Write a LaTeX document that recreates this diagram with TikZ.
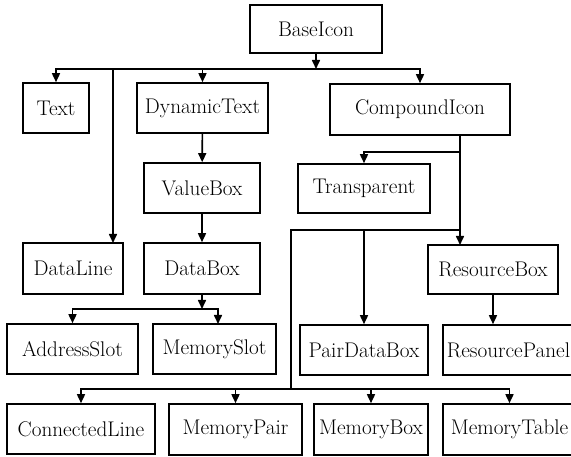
\documentclass[tikz,border=0pt]{standalone}
\usetikzlibrary{arrows.meta}
\begin{document}
\begin{tikzpicture}[x=1pt,y=-1pt,
  box/.style={draw,line width=1.6pt,inner sep=0pt,font=\fontsize{21.2pt}{24pt}\selectfont},
  arr/.style={line width=1.6pt,-{Triangle[length=9pt,width=8pt]}},
  ln/.style={line width=1.6pt}]
\useasboundingbox (0,0) rectangle (571,457);
% boxes
\node[box,minimum width=132pt,minimum height=48pt] (BaseIcon) at (316,29) {BaseIcon};
\node[box,minimum width=66pt,minimum height=50pt] (Text) at (56,108) {Text};
\node[box,minimum width=131pt,minimum height=50pt] (DynamicText) at (202.5,108) {DynamicText};
\node[box,minimum width=180pt,minimum height=51pt] (CompoundIcon) at (420,109.5) {CompoundIcon};
\node[box,minimum width=116pt,minimum height=50pt] (ValueBox) at (202,188) {ValueBox};
\node[box,minimum width=132pt,minimum height=49pt] (Transparent) at (364,188.5) {Transparent};
\node[box,minimum width=100pt,minimum height=51pt] (DataLine) at (73,268.5) {DataLine};
\node[box,minimum width=116pt,minimum height=51pt] (DataBox) at (202,268.5) {DataBox};
\node[box,minimum width=130pt,minimum height=49pt] (ResourceBox) at (493,269.5) {ResourceBox};
\node[box,minimum width=131pt,minimum height=50pt] (AddressSlot) at (72.5,349) {AddressSlot};
\node[box,minimum width=123pt,minimum height=50pt] (MemorySlot) at (214.5,349) {MemorySlot};
\node[box,minimum width=128pt,minimum height=50pt] (PairDataBox) at (364,350) {PairDataBox};
\node[box,minimum width=131pt,minimum height=50pt] (ResourcePanel) at (508.5,350) {ResourcePanel};
\node[box,minimum width=148pt,minimum height=50pt] (ConnectedLine) at (81,429) {ConnectedLine};
\node[box,minimum width=133pt,minimum height=51pt] (MemoryPair) at (235.5,429.5) {MemoryPair};
\node[box,minimum width=114pt,minimum height=51pt] (MemoryBox) at (371,429.5) {MemoryBox};
\node[box,minimum width=133pt,minimum height=51pt] (MemoryTable) at (509.5,429.5) {MemoryTable};
% junction coordinates
\coordinate (b1) at (316,69);
\coordinate (dl) at (113,69);
\coordinate (dlin) at (113,243);
\coordinate (b2) at (202,309);
\coordinate (ms) at (218,324);
\coordinate (ct) at (460,135);
\coordinate (c1) at (460,152);
\coordinate (c2) at (460,230);
\coordinate (rbin) at (460,245);
\coordinate (l1) at (291,230);
\coordinate (p1) at (364,230);
\coordinate (b3) at (291,389);
% connectors
\draw[arr] (BaseIcon) -- (b1);
\draw[arr] (b1) -| (Text);
\draw[arr] (b1) -| (DynamicText);
\draw[arr] (b1) -| (CompoundIcon);
\draw[arr] (dl) -- (dlin);
\draw[arr] (DynamicText) -- (ValueBox);
\draw[arr] (ValueBox) -- (DataBox);
\draw[arr] (DataBox) -- (b2);
\draw[arr] (b2) -| (AddressSlot);
\draw[arr] (b2) -| (ms);
\draw[arr] (ct) -- (rbin);
\draw[arr] (c1) -| (Transparent);
\draw[ln] (c2) -- (l1) -- (b3);
\draw[arr] (p1) -- (PairDataBox);
\draw[arr] (ResourceBox) -- (ResourceBox.south |- ResourcePanel.north);
\draw[arr] (b3) -| (ConnectedLine);
\draw[arr] (b3) -| (MemoryPair);
\draw[arr] (b3) -| (MemoryBox);
\draw[arr] (b3) -| (MemoryTable);
\end{tikzpicture}
\end{document}
